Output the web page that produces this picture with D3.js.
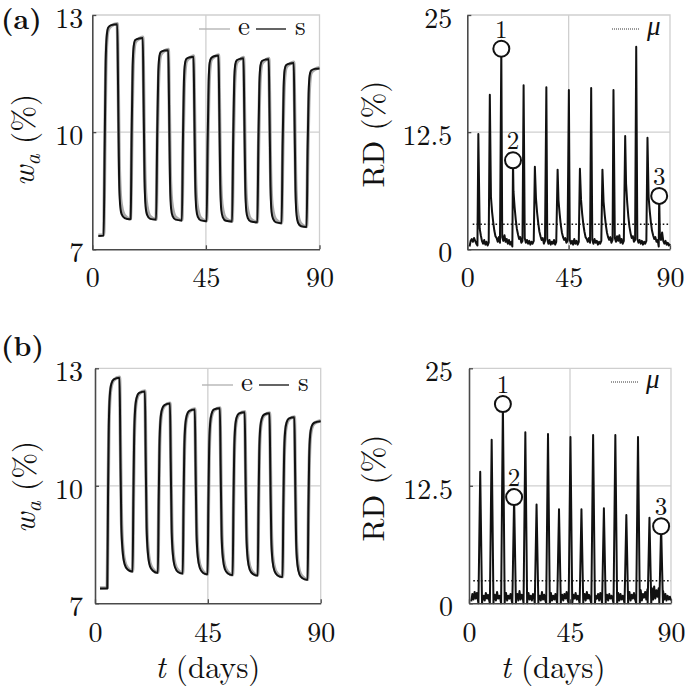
<!DOCTYPE html>
<html><head><meta charset="utf-8">
<script src="https://cdn.jsdelivr.net/npm/d3@7"></script>
<style>body{margin:0;background:#fff}</style>
</head><body>
<script>
// ---------- DATA ----------
const tTicks = [0, 45, 90];
const wTicks = [7, 10, 13];
const rdTicks = [0, 12.5, 25];
const legendW = ["e", "s"];
const legendRD = ["\u03bc"];
const markLabels = ["1", "2", "3"];
const markIdx = [2, 3, 16];

// (a) water content: time, simulated (s), experimental (e)
const wTimeA = [2.4,4.5,4.9,5.3,5.7,6.3,7.5,9.9,10.2,10.6,11.0,11.6,12.8,14.9,
15.2,15.6,16.0,16.4,17.0,18.5,20.0,20.3,20.7,21.1,21.7,22.9,25.1,
25.3,25.7,26.1,26.5,27.1,28.6,30.1,30.4,30.8,31.2,31.8,33.0,35.3,
35.5,35.9,36.3,36.7,37.3,38.8,40.1,40.4,40.8,41.2,41.8,43.0,45.1,
45.3,45.7,46.1,46.5,47.1,48.6,50.0,50.3,50.7,51.1,51.7,52.9,55.2,
55.4,55.8,56.2,56.6,57.2,58.7,59.9,60.2,60.6,61.0,61.6,62.8,65.2,
65.4,65.8,66.2,66.6,67.2,68.7,69.9,70.2,70.6,71.0,71.6,72.8,74.8,
75.0,75.4,75.8,76.2,76.8,78.3,79.8,80.1,80.5,80.9,81.5,82.7,84.7,
84.9,85.3,85.7,86.1,86.7,88.2,90];
const wSimA = [7.34,7.35,9.6,11.8,12.45,12.68,12.74,12.76,11.2,8.9,8.15,7.9,7.8,7.77,
7.78,10.0,11.7,12.2,12.36,12.40,12.41,10.9,8.8,8.1,7.88,7.78,7.76,
7.76,9.9,11.4,11.9,12.05,12.09,12.1,10.7,8.7,8.05,7.85,7.76,7.74,
7.74,9.8,11.3,11.75,11.88,11.92,11.93,10.6,8.65,8.02,7.83,7.74,7.72,
7.72,9.8,11.3,11.78,11.9,11.95,11.96,10.6,8.65,8.0,7.82,7.73,7.71,
7.71,9.8,11.25,11.72,11.84,11.88,11.89,10.5,8.6,7.98,7.8,7.71,7.69,
7.69,9.8,11.25,11.7,11.82,11.86,11.87,10.5,8.6,7.96,7.78,7.69,7.67,
7.67,9.7,11.15,11.6,11.72,11.76,11.77,10.4,8.5,7.88,7.68,7.59,7.57,
7.57,9.6,11.0,11.45,11.58,11.62,11.63];
const wExpA = [7.36,7.37,9.2,11.4,12.3,12.62,12.72,12.78,11.6,9.4,8.5,8.1,7.86,7.78,
7.79,9.6,11.3,12.0,12.3,12.39,12.43,11.3,9.3,8.45,8.08,7.84,7.77,
7.77,9.5,11.0,11.7,11.98,12.08,12.12,11.1,9.2,8.4,8.05,7.82,7.75,
7.75,9.4,10.9,11.55,11.82,11.91,11.95,11.0,9.1,8.35,8.02,7.8,7.73,
7.73,9.4,10.9,11.58,11.85,11.94,11.98,11.0,9.1,8.33,8.0,7.79,7.72,
7.72,9.4,10.85,11.52,11.78,11.87,11.91,10.9,9.05,8.3,7.98,7.77,7.70,
7.70,9.4,10.85,11.5,11.76,11.85,11.89,10.9,9.05,8.28,7.96,7.75,7.68,
7.68,9.3,10.75,11.4,11.66,11.75,11.79,10.8,8.95,8.2,7.86,7.65,7.58,
7.58,9.2,10.6,11.25,11.52,11.61,11.65];

// (b) water content
const wTimeB = [2.0,4.8,4.9,5.2,5.5,5.9,6.5,7.5,9.8,10.1,10.5,11.0,11.8,13.0,14.8,
15.0,15.3,15.6,16.0,16.6,17.6,19.9,20.2,20.6,21.1,21.9,23.1,24.8,
25.1,25.4,25.7,26.1,26.7,27.7,29.9,30.2,30.6,31.1,31.9,33.1,34.8,
35.0,35.3,35.6,36.0,36.6,37.6,39.8,40.1,40.5,41.0,41.8,43.0,44.6,
44.9,45.2,45.5,45.9,46.5,47.5,49.8,50.1,50.5,51.0,51.8,53.0,54.6,
54.9,55.2,55.5,55.9,56.5,57.5,59.7,60.0,60.4,60.9,61.7,62.9,64.6,
64.9,65.2,65.5,65.9,66.5,67.5,69.6,69.9,70.3,70.8,71.6,72.8,74.5,
74.8,75.1,75.4,75.8,76.4,77.4,79.5,79.8,80.2,80.7,81.5,82.7,84.5,
84.8,85.1,85.4,85.8,86.4,87.4,90];
const wSimB = [7.38,7.38,7.38,9.8,11.5,12.3,12.6,12.72,12.76,11.0,9.0,8.35,8.0,7.86,7.81,
7.81,9.7,11.2,11.95,12.25,12.37,12.41,10.8,8.9,8.28,7.95,7.83,7.78,
7.78,9.6,11.0,11.68,11.95,12.06,12.1,10.6,8.8,8.22,7.92,7.8,7.76,
7.76,9.55,10.9,11.55,11.8,11.91,11.95,10.5,8.75,8.18,7.9,7.78,7.74,
7.74,9.55,10.9,11.58,11.84,11.95,11.98,10.5,8.72,8.15,7.87,7.76,7.72,
7.72,9.5,10.85,11.5,11.75,11.85,11.88,10.4,8.7,8.13,7.86,7.75,7.71,
7.71,9.5,10.85,11.48,11.72,11.82,11.85,10.4,8.65,8.08,7.82,7.71,7.67,
7.67,9.45,10.75,11.38,11.62,11.72,11.75,10.3,8.58,8.0,7.74,7.64,7.6,
7.6,9.4,10.7,11.3,11.52,11.61,11.65];
const wExpB = [7.39,7.40,7.40,9.6,11.3,12.2,12.55,12.7,12.77,11.3,9.3,8.5,8.08,7.9,7.82,
7.82,9.5,11.0,11.85,12.2,12.35,12.42,11.1,9.2,8.42,8.03,7.87,7.79,
7.79,9.4,10.8,11.58,11.9,12.04,12.11,10.9,9.1,8.36,8.0,7.84,7.77,
7.77,9.35,10.7,11.45,11.75,11.89,11.96,10.8,9.05,8.32,7.98,7.82,7.75,
7.75,9.35,10.7,11.48,11.79,11.93,11.99,10.8,9.0,8.29,7.95,7.8,7.73,
7.73,9.3,10.65,11.4,11.7,11.83,11.89,10.7,8.98,8.27,7.94,7.79,7.72,
7.72,9.3,10.65,11.38,11.67,11.8,11.86,10.7,8.93,8.22,7.9,7.75,7.68,
7.68,9.25,10.55,11.28,11.57,11.7,11.76,10.6,8.86,8.14,7.82,7.68,7.61,
7.61,9.2,10.5,11.2,11.47,11.59,11.66];

// relative difference: baseline samples every 0.5 day from t = 1
const rdBaseA = [
0.3,0.9,1.1,0.8,1.2,0.9,0.6,0.4,
0.3,2.2,1.5,0.9,0.6,1.0,0.5,0.8,0.4,0.7,
0.3,5.6,4.0,2.9,2.0,1.4,1.2,0.8,1.3,0.7,
0.4,1.3,0.9,1.5,0.8,1.1,0.6,1.0,0.5,0.8,
0.3,6.2,4.5,3.2,2.2,1.6,1.1,1.3,0.7,0.9,
0.3,1.2,0.7,1.0,0.6,0.9,0.5,0.8,0.6,0.9,
0.3,5.4,3.9,2.8,1.9,1.4,1.0,1.2,0.6,0.9,
0.3,1.1,0.6,1.0,0.5,0.8,0.6,1.0,0.5,0.8,
0.3,5.2,3.8,2.6,1.8,1.3,1.0,1.2,0.7,0.9,
0.3,1.0,0.6,0.9,0.5,1.1,0.6,0.9,0.5,0.8,
0.3,5.3,3.8,2.7,1.9,1.3,1.1,0.8,1.2,0.7,
0.3,1.0,0.6,1.1,0.7,0.9,0.5,0.8,0.6,0.9,
0.3,5.1,3.7,2.6,1.8,1.3,1.0,1.3,0.7,1.0,
0.3,1.2,0.8,1.4,0.9,1.5,0.7,1.1,0.6,0.9,
0.3,7.0,5.0,3.5,2.4,1.7,1.2,1.4,0.8,1.0,
0.3,1.1,0.7,1.0,0.6,0.9,0.5,0.8,0.6,0.9,
0.3,5.6,4.1,2.9,2.0,1.5,1.1,1.3,0.8,1.0,
0.3,1.5,1.0,1.8,0.9,0.6,0.9,0.5,0.7,0.4,
0.6];
const rdSpikeTA = [4.9,10.0,15.1,20.3,25.0,30.0,35.1,40.1,45.1,50.0,55.0,60.0,64.9,70.1,75.0,80.0,85.2];
const rdSpikeHA = [12.3,16.5,21.4,9.5,17.5,8.8,17.3,8.5,17.0,8.6,17.2,8.5,17.0,12.1,21.6,11.9,5.7];
const muA = 2.67, muStartA = 2.4;

const rdBaseB = [
0.2,1.0,0.4,1.2,0.5,1.1,0.3,0.9,
0.2,1.0,0.4,0.8,0.3,1.1,0.5,0.9,0.3,0.8,
0.2,1.1,0.4,0.9,0.3,1.2,0.5,0.8,0.4,1.0,
0.2,0.9,0.4,1.1,0.3,0.8,0.5,1.0,0.3,0.9,
0.2,1.2,0.5,1.0,0.3,1.3,0.4,0.9,0.5,1.1,
0.2,0.9,0.3,1.1,0.4,0.8,0.3,1.0,0.5,0.9,
0.2,1.0,0.4,0.8,0.3,1.2,0.4,0.9,0.3,1.0,
0.2,0.9,0.5,1.1,0.3,0.8,0.4,1.0,0.3,0.9,
0.2,1.1,0.4,0.9,0.3,1.0,0.5,1.2,0.3,0.8,
0.2,1.0,0.3,0.9,0.5,1.1,0.4,0.8,0.3,1.0,
0.2,0.9,0.4,1.0,0.3,1.2,0.5,0.9,0.4,1.1,
0.2,1.0,0.3,0.8,0.5,1.0,0.3,1.1,0.4,0.9,
0.2,1.1,0.4,0.9,0.3,1.0,0.5,0.8,0.4,1.2,
0.2,0.9,0.5,1.1,0.3,1.0,0.4,0.8,0.3,1.0,
0.2,1.0,0.4,1.2,0.3,0.9,0.5,1.1,0.4,1.3,
0.2,1.1,0.5,1.4,0.3,1.0,0.6,1.2,0.4,1.5,
0.2,1.3,0.6,1.6,0.4,1.8,0.5,1.4,0.7,1.6,
0.2,1.5,0.6,1.3,0.4,1.0,0.3,0.8,0.4,0.7,
0.3];
const rdSpikeTB = [5.0,10.1,15.1,20.1,25.1,30.1,35.2,40.1,45.2,50.1,55.3,60.1,65.2,70.1,75.3,80.4,85.6];
const rdSpikeHB = [14.0,17.4,21.2,11.3,18.2,10.5,18.0,10.0,17.7,10.0,17.9,10.1,17.9,9.4,17.7,9.1,8.2];
const muB = 2.4, muStartB = 1.9;

// ---------- DRAWING ----------
const SERIF = '"Latin Modern Roman", "Liberation Serif"';
const W = 685, H = 689;
const svg = d3.select("body").append("svg").attr("width", W).attr("height", H);
const DARK = "#4a4a4a", LIGHT = "#cfcfcf";
const TICK_FS = "28px", LAB_FS = "31px", LEG_FS = "27px";

function frame(g, x, y, gridX, gridY) {
  const [x0, x1] = x.range(), [y1, y0] = y.range();
  g.append("line").attr("x1", x0).attr("x2", x1).attr("y1", y(gridY)).attr("y2", y(gridY)).attr("stroke", LIGHT).attr("stroke-width", 1.3);
  g.append("line").attr("x1", x(gridX)).attr("x2", x(gridX)).attr("y1", y0).attr("y2", y1).attr("stroke", LIGHT).attr("stroke-width", 1.3);
  g.append("path").attr("d", `M${x0},${y0}H${x1}V${y1}`).attr("fill", "none").attr("stroke", LIGHT).attr("stroke-width", 1.3);
}
function axes(g, x, y, xVals, yVals, yFmt, padY, padX) {
  const [x0] = x.range(), [y1] = y.range();
  const ay = g.append("g").attr("transform", `translate(${x0},0)`)
    .call(d3.axisLeft(y).tickValues(yVals).tickFormat(yFmt).tickSize(-4).tickSizeOuter(0).tickPadding(padY));
  const ax = g.append("g").attr("transform", `translate(0,${y1})`)
    .call(d3.axisBottom(x).tickValues(xVals).tickFormat(d3.format("d")).tickSize(-4).tickSizeOuter(0).tickPadding(padX));
  [ay, ax].forEach(a => {
    a.attr("font-family", null).attr("font-size", null);
    a.select(".domain").attr("stroke", DARK).attr("stroke-width", 1.6);
    a.selectAll(".tick line").attr("stroke", DARK).attr("stroke-width", 1.3);
    a.selectAll("text").attr("fill", "#111").style("font-family", SERIF).style("font-size", TICK_FS);
  });
  ay.selectAll("text").attr("dy", "0.45em");
  ax.selectAll("text").attr("dy", "0.7em");
}

function drawW(p) {
  const x = d3.scaleLinear().domain([0, 90]).range([p.x0, p.x1]);
  const y = d3.scaleLinear().domain([7, 13]).range([p.y1, p.y0]);
  const g = svg.append("g");
  frame(g, x, y, 45, 10);
  const line = d3.line().x(d => x(d[0])).y(d => y(d[1])).curve(d3.curveMonotoneX);
  const ePts = p.t.map((t, i) => [t, p.e[i]]);
  const sPts = p.t.map((t, i) => [t, p.s[i]]);
  g.append("path").attr("d", line(ePts)).attr("fill", "none").attr("stroke", "#a9a9a9").attr("stroke-width", 3.4).attr("stroke-linejoin", "round");
  g.append("path").attr("d", line(sPts)).attr("fill", "none").attr("stroke", "#111").attr("stroke-width", 2).attr("stroke-linejoin", "round");
  axes(g, x, y, tTicks, wTicks, d3.format("d"), p.padY, p.padX);
  // legend
  const L = p.leg;
  g.append("line").attr("x1", L.x0).attr("x2", L.x0 + 31).attr("y1", L.y).attr("y2", L.y).attr("stroke", "#b5b5b5").attr("stroke-width", 1.4);
  g.append("text").attr("x", L.x0 + 39).attr("y", L.y + 6).text(legendW[0]).style("font-family", SERIF).style("font-size", LEG_FS).attr("fill", "#111");
  g.append("line").attr("x1", L.x0 + 57).attr("x2", L.x0 + 87).attr("y1", L.y).attr("y2", L.y).attr("stroke", "#222").attr("stroke-width", 1.4);
  g.append("text").attr("x", L.x0 + 96).attr("y", L.y + 6).text(legendW[1]).style("font-family", SERIF).style("font-size", LEG_FS).attr("fill", "#111");
  // y label
  const yl = g.append("text").attr("transform", `translate(${p.ylx},${p.yly}) rotate(-90)`).attr("text-anchor", "middle")
    .style("font-family", SERIF).style("font-size", LAB_FS).attr("fill", "#111");
  yl.append("tspan").style("font-style", "italic").text("w");
  yl.append("tspan").style("font-style", "italic").style("font-size", "22px").attr("dy", 6).text("a");
  yl.append("tspan").attr("dy", -6).text(" (%)");
  if (p.xl) xLabel(g, (p.x0 + p.x1) / 2);
}

function xLabel(g, cx) {
  const t = g.append("text").attr("x", cx).attr("y", 678).attr("text-anchor", "middle")
    .style("font-family", SERIF).style("font-size", LAB_FS).attr("fill", "#111");
  t.append("tspan").style("font-style", "italic").text("t");
  t.append("tspan").text(" (days)");
}

function rdPoints(base, st, sh, half, tol) {
  const pts = base.map((v, i) => [1 + 0.5 * i, v]).filter(([t]) => !st.some(s => Math.abs(s - t) < tol));
  st.forEach((t, i) => {
    if (half > 0) pts.push([t - half, 0]);
    pts.push([t, sh[i]]);
    if (half > 0) pts.push([t + half, 0]);
  });
  pts.sort((a, b) => a[0] - b[0]);
  return pts;
}

function drawRD(p) {
  const x = d3.scaleLinear().domain([0, 90]).range([p.x0, p.x1]);
  const y = d3.scaleLinear().domain([0, 25]).range([p.y1, p.y0]);
  const g = svg.append("g");
  frame(g, x, y, 45, 12.5);
  const line = d3.line().x(d => x(d[0])).y(d => y(d[1]));
  g.append("path").attr("d", line(rdPoints(p.base, p.st, p.sh, p.half, p.tol)))
    .attr("fill", "none").attr("stroke", "#111").attr("stroke-width", 2).attr("stroke-linejoin", "round");
  g.append("line").attr("x1", x(p.muStart)).attr("x2", x(90)).attr("y1", y(p.mu)).attr("y2", y(p.mu))
    .attr("stroke", "#111").attr("stroke-width", 1.6).attr("stroke-dasharray", "1.6,2.2");
  axes(g, x, y, tTicks, rdTicks, d => String(d), p.padY, p.padX);
  // markers
  markIdx.forEach((k, i) => {
    const cx = x(p.st[k]), cy = y(p.sh[k]);
    g.append("circle").attr("cx", cx).attr("cy", cy).attr("r", 8).attr("fill", "#fff").attr("stroke", "#111").attr("stroke-width", 2);
    g.append("text").attr("x", cx).attr("y", cy - 11).attr("text-anchor", "middle").text(markLabels[i])
      .style("font-family", SERIF).style("font-size", "25px").attr("fill", "#111");
  });
  // legend
  g.append("line").attr("x1", p.leg.x0).attr("x2", p.leg.x0 + 28).attr("y1", p.leg.y).attr("y2", p.leg.y)
    .attr("stroke", "#333").attr("stroke-width", 1).attr("stroke-dasharray", "1,1");
  g.append("text").attr("x", p.leg.x0 + 35).attr("y", p.leg.y + 6).text(legendRD[0])
    .style("font-family", SERIF).style("font-size", LEG_FS).style("font-style", "italic").attr("fill", "#111");
  // y label
  g.append("text").attr("transform", `translate(${p.ylx},${p.yly}) rotate(-90)`).attr("text-anchor", "middle")
    .style("font-family", SERIF).style("font-size", LAB_FS).attr("fill", "#111").text("RD (%)");
  if (p.xl) xLabel(g, p.xlx);
}

function panelLabel(txt, x, y) {
  svg.append("text").attr("x", x).attr("y", y).text(txt).style("font-family", SERIF)
    .style("font-size", "28px").style("font-weight", "bold").attr("fill", "#111");
}

drawW({x0: 92.3, x1: 319.5, y0: 15, y1: 249.3, t: wTimeA, s: wSimA, e: wExpA, padY: 9, padX: 18,
  leg: {x0: 199, y: 29}, ylx: 34, yly: 140, xl: false});
drawRD({x0: 467.3, x1: 670, y0: 15, y1: 249.3, base: rdBaseA, st: rdSpikeTA, sh: rdSpikeHA, half: 0, tol: 0.15,
  mu: muA, muStart: muStartA, padY: 15, padX: 18, leg: {x0: 612, y: 29}, ylx: 384, yly: 134, xl: false});
drawW({x0: 95, x1: 320.7, y0: 368.3, y1: 603.3, t: wTimeB, s: wSimB, e: wExpB, padY: 12, padX: 19,
  leg: {x0: 202, y: 385}, ylx: 35, yly: 487, xl: true});
drawRD({x0: 469, x1: 671, y0: 368.3, y1: 603.3, base: rdBaseB, st: rdSpikeTB, sh: rdSpikeHB, half: 0.8, tol: 0.85,
  mu: muB, muStart: muStartB, padY: 16, padX: 19, leg: {x0: 611, y: 382}, ylx: 384, yly: 488, xl: true, xlx: 553});
panelLabel("(a)", 1, 29);
panelLabel("(b)", 1, 356);
</script>
</body></html>
